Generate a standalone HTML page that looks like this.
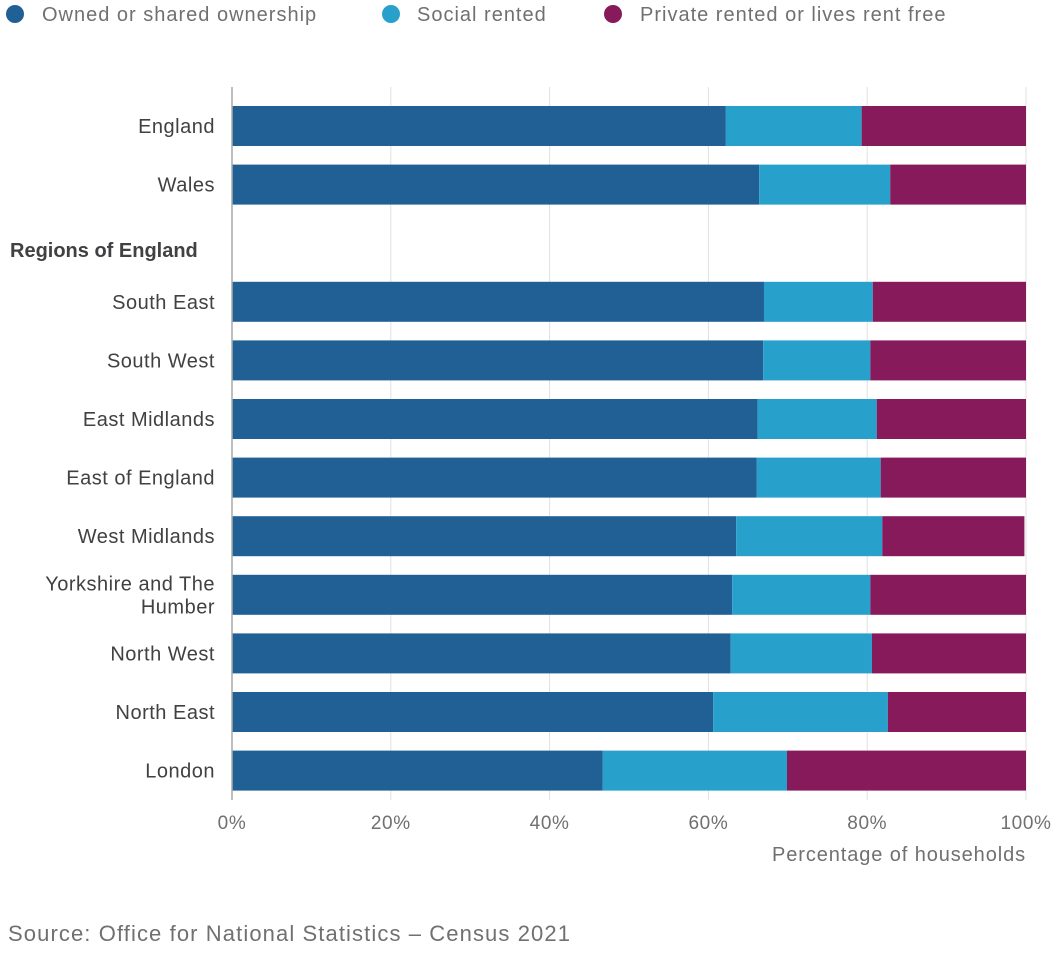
<!DOCTYPE html>
<html><head><meta charset="utf-8"><style>
body{margin:0;background:#fff;width:1060px;height:950px;overflow:hidden;font-family:"Liberation Sans",sans-serif}
svg text{font-family:"Liberation Sans",sans-serif}
</style></head><body>
<svg width="1060" height="950">
<g letter-spacing="1">
<g><circle cx="15" cy="14" r="9" fill="#206095"/><text x="42" y="21" font-size="20" fill="#707071">Owned or shared ownership</text></g>
<g><circle cx="391" cy="14" r="9" fill="#27a0cc"/><text x="417" y="21" font-size="20" fill="#707071">Social rented</text></g>
<g><circle cx="613" cy="14" r="9" fill="#871a5b"/><text x="640" y="21" font-size="20" fill="#707071">Private rented or lives rent free</text></g>
</g>
<g id="grid"></g>
<g id="bars"></g>
<g id="labels"></g>
<g id="ticks"></g>
<line x1="232" y1="87" x2="232" y2="800" stroke="#aaa" stroke-width="1.5"/>
<text x="1026" y="861" text-anchor="end" font-size="20" letter-spacing="0.9" fill="#707071">Percentage of households</text>
<text x="8" y="941" font-size="22" letter-spacing="1.1" fill="#707071">Source: Office for National Statistics – Census 2021</text>
</svg>
<script>
const categories=["England","Wales","Regions of England","South East","South West","East Midlands","East of England","West Midlands","Yorkshire and The|Humber","North West","North East","London"];
const owned=[62.2,66.4,null,67.0,66.9,66.2,66.1,63.5,63.0,62.8,60.6,46.7];
const social=[17.1,16.5,null,13.7,13.5,15.0,15.6,18.4,17.4,17.8,22.0,23.2];
const privateRent=[20.7,17.1,null,19.3,19.6,18.8,18.3,17.9,19.6,19.4,17.4,30.1];
const tickValues=[0,20,40,60,80,100];
const tickLabels=["0%","20%","40%","60%","80%","100%"];
const NS="http://www.w3.org/2000/svg";
const x=v=>232+v*7.94;
const yc=i=>126+i*58.6;
function mk(tag,attrs,parent){const e=document.createElementNS(NS,tag);for(const k in attrs)e.setAttribute(k,attrs[k]);parent.appendChild(e);return e;}
const grid=document.getElementById('grid'),bars=document.getElementById('bars'),labels=document.getElementById('labels'),ticks=document.getElementById('ticks');
tickValues.forEach((t,i)=>{
 if(t>0){const l=mk('line',{x1:x(t),x2:x(t),y1:87,y2:800,stroke:'#e0e0e0','stroke-width':1},grid);
 
 }
 const tx=mk('text',{x:x(t),y:829,'text-anchor':'middle','font-size':19,'letter-spacing':0.6,fill:'#707071'},ticks);
 tx.textContent=tickLabels[i];
 
 
});
const colors=['#206095','#27a0cc','#871a5b'];
categories.forEach((c,i)=>{
 const y=yc(i);
 if(owned[i]===null){
  const h=mk('text',{x:10,y:y+14,'font-size':20,'font-weight':'bold',fill:'#414042'},labels);
  h.textContent=c;
  
  
  return;
 }
 const vals=[owned[i],social[i],privateRent[i]];let acc=0;
 vals.forEach((v,j)=>{
  const r=mk('rect',{x:x(acc),y:y-20,width:x(acc+v)-x(acc),height:40,fill:colors[j]},bars);
  
  
  acc+=v;
 });
 const parts=c.split('|');
 parts.forEach((p,k)=>{
  const t=mk('text',{x:215,y:y+7+(parts.length>1?(k-0.5)*23:0),'text-anchor':'end','font-size':20,'letter-spacing':0.5,fill:'#414042'},labels);
  t.textContent=p;
  
  
 });
});
</script>
</body></html>
